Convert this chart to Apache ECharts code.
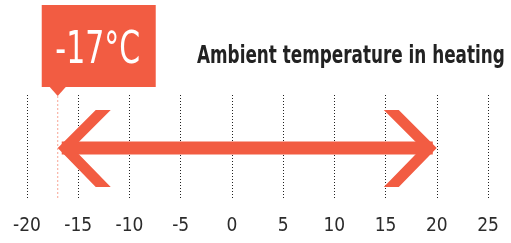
<!DOCTYPE html>
<html>
<head>
<meta charset="utf-8">
<script src="https://cdn.jsdelivr.net/npm/echarts@6/dist/echarts.min.js"></script>
<style>
  html, body { margin: 0; padding: 0; background: #fff; }
  #chart { width: 511px; height: 243px; }
</style>
</head>
<body>
<div id="chart"></div>
<script>
    var titleText = 'Ambient temperature in heating';
    var tickMin = -20;
    var tickMax = 25;
    var tickStep = 5;
    // range of ambient temperature: low, high
    var tempRange = [[-17, 20]];

    var red = '#f25c42';
    var font = '"DejaVu Sans Condensed", "DejaVu Sans", sans-serif';

    var myChart = echarts.init(document.getElementById('chart'));

    function renderArrow(params, api) {
        var lo = api.coord([api.value(0), 0.485]);
        var hi = api.coord([api.value(1), 0.485]);
        var y = lo[1];
        var x1 = lo[0], x2 = hi[0];
        var half = 6.5, head = 38, w = 15;
        var bottom = api.coord([api.value(0), 0])[1];
        return {
            type: 'group',
            children: [
                // dashed marker line at the low value
                {
                    type: 'line',
                    shape: { x1: x1, y1: 96, x2: x1, y2: bottom },
                    style: { stroke: '#f7a493', lineWidth: 1, lineDash: [2, 2] }
                },
                // shaft
                {
                    type: 'rect',
                    shape: { x: x1 + 4, y: y - half, width: x2 - x1 - 8, height: half * 2 },
                    style: { fill: red }
                },
                // left head
                {
                    type: 'polygon',
                    shape: { points: [[x1, y], [x1 + head, y - head], [x1 + head + w, y - head], [x1 + w, y], [x1 + head + w, y + head + 1], [x1 + head, y + head + 1]] },
                    style: { fill: red }
                },
                // right head
                {
                    type: 'polygon',
                    shape: { points: [[x2, y], [x2 - head, y - head], [x2 - head - w, y - head], [x2 - w, y], [x2 - head - w, y + head + 1], [x2 - head, y + head + 1]] },
                    style: { fill: red }
                },
                // callout box
                {
                    type: 'rect',
                    shape: { x: x1 - 16, y: 5, width: 114, height: 82 },
                    style: { fill: red }
                },
                {
                    type: 'polygon',
                    shape: { points: [[x1 - 8, 87], [x1 + 8, 87], [x1, 96]] },
                    style: { fill: red }
                },
                {
                    type: 'text',
                    x: x1 + 40, y: 51,
                    scaleX: 0.74,
                    style: {
                        text: api.value(0) + '°C',
                        align: 'center', verticalAlign: 'middle',
                        fill: '#fff', fontSize: 45, fontFamily: font
                    }
                }
            ]
        };
    }

    var option = {
        animation: false,
        graphic: [
            {
                type: 'text',
                x: 197, y: 57,
                scaleX: 0.78,
                style: {
                    text: titleText,
                    verticalAlign: 'middle',
                    fontSize: 24, fontWeight: 'bold', fill: '#222', fontFamily: font
                }
            }
        ],
        grid: { left: 27, right: 23, top: 95, bottom: 45 },
        xAxis: {
            type: 'value',
            min: tickMin,
            max: tickMax,
            interval: tickStep,
            axisLine: { show: false },
            axisTick: { show: false },
            axisLabel: { margin: 19, fontSize: 19, color: '#2b2b2b', fontFamily: font },
            splitLine: { show: true, lineStyle: { color: '#222', type: [1, 2], width: 1 } }
        },
        yAxis: { type: 'value', min: 0, max: 1, show: false },
        series: [
            {
                type: 'custom',
                renderItem: renderArrow,
                encode: { x: [0, 1] },
                data: tempRange
            }
        ]
    };
    myChart.setOption(option);
    window.onresize = myChart.resize;
</script>
</body>
</html>
